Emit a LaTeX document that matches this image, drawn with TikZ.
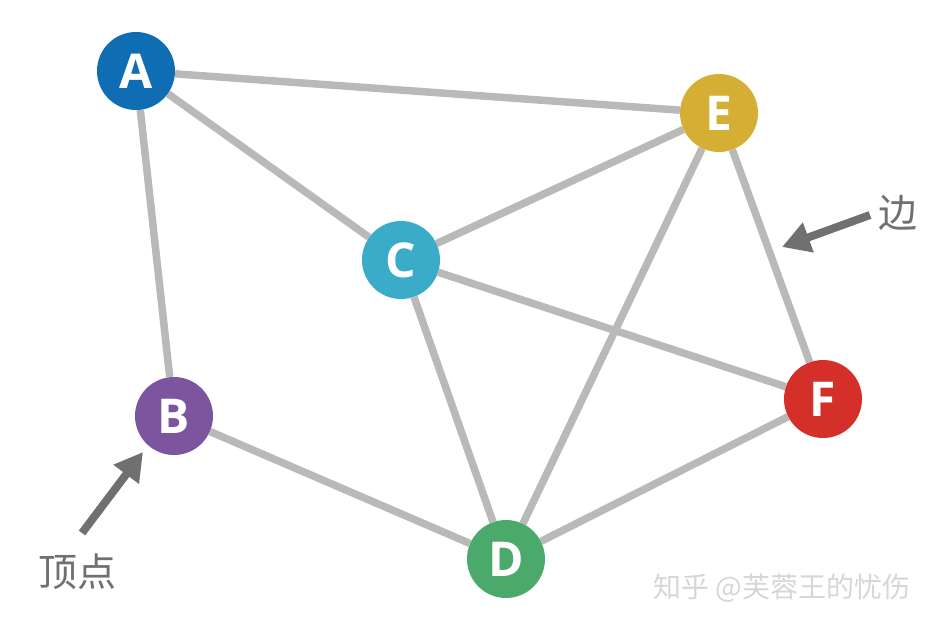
\documentclass[tikz,border=0pt]{standalone}
\usepackage{fontspec}
\setsansfont{Open Sans}
\newfontfamily\cjk{Noto Sans CJK SC}
\usetikzlibrary{arrows.meta, backgrounds}
\definecolor{vblue}{HTML}{0F6DB4}
\definecolor{vpurple}{HTML}{7D559E}
\definecolor{vcyan}{HTML}{3AACC9}
\definecolor{vgreen}{HTML}{4BAA6B}
\definecolor{vgold}{HTML}{D4AF33}
\definecolor{vred}{HTML}{D42F29}
\definecolor{edgegray}{HTML}{B9B9B9}
\definecolor{notegray}{HTML}{707070}
\begin{document}
\begin{tikzpicture}[
x=1pt, y=-1pt,
vertex/.style={circle, minimum size=78pt, inner sep=0pt, text=white, font=\sffamily\bfseries\fontsize{48}{48}\selectfont},
link/.style={draw=edgegray, line width=7.5pt},
pointer/.style={draw=notegray, line width=8pt, -{Triangle[length=28pt, width=30pt]}},
note/.style={text=notegray, font=\cjk\fontsize{39}{39}\selectfont},
]
\useasboundingbox (0,0) rectangle (928,627);
\node[vertex, fill=vblue] (A) at (136,71) {A};
\node[vertex, fill=vpurple] (B) at (174,416) {B};
\node[vertex, fill=vcyan] (C) at (401,260) {C};
\node[vertex, fill=vgreen] (D) at (506,559) {D};
\node[vertex, fill=vgold] (E) at (719,113) {E};
\node[vertex, fill=vred] (F) at (823,399) {F};
\begin{scope}[on background layer]
\draw[link] (A) -- (E);
\draw[link] (A) -- (C);
\draw[link] (A) -- (B);
\draw[link] (C) -- (E);
\draw[link] (C) -- (F);
\draw[link] (C) -- (D);
\draw[link] (E) -- (D);
\draw[link] (E) -- (F);
\draw[link] (B) -- (D);
\draw[link] (D) -- (F);
\end{scope}
% labels
\node[note] (edge) at (898,213) {边};
\node[note] (vert) at (77,572) {顶点};
\coordinate (edgetail) at (870,215);
\coordinate (edgetip) at (782,247);
\coordinate (verttail) at (82,533);
\coordinate (verttip) at (143,452);
\draw[pointer] (edgetail) -- (edgetip);
\draw[pointer] (verttail) -- (verttip);
% watermark
\node[anchor=west, text=black!16, font=\cjk\fontsize{28}{28}\selectfont] (mark) at (650,588) {知乎 @芙蓉王的忧伤};
\end{tikzpicture}
\end{document}
